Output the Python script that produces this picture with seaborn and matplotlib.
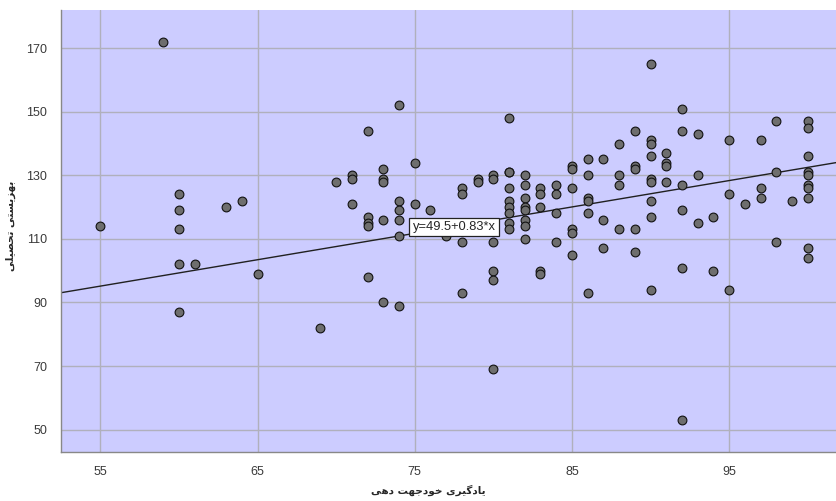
import matplotlib
matplotlib.use("Agg")
import matplotlib.pyplot as plt
import seaborn as sns
import numpy as np
import pandas as pd

# ---------------- data ----------------
x_label_text = "یادگیری خودجهت دهی"
y_label_text = "بهزیستی تحصیلی"
fit_label = "y=49.5+0.83*x"
fit_intercept = 49.5
fit_slope = 0.83

x_ticks = [55, 65, 75, 85, 95]
y_ticks = [50, 70, 90, 110, 130, 150, 170]

# self-directed learning scores (x) and the matching outcome scores (y)
groups = {
    55: [114],
    59: [172],
    60: [124, 119, 113, 102, 87],
    61: [102],
    63: [120],
    64: [122],
    65: [99],
    69: [82],
    70: [128],
    71: [130, 129, 121],
    72: [144, 117, 115, 114, 98],
    73: [132, 129, 128, 116, 90],
    74: [152, 122, 119, 116, 111, 89],
    75: [134, 121],
    76: [119],
    77: [111],
    78: [126, 124, 109, 93],
    79: [129, 128],
    80: [130, 129, 109, 100, 97, 69],
    81: [148, 131, 131, 126, 122, 120, 118, 115, 113],
    82: [130, 127, 123, 120, 119, 116, 114, 110],
    83: [126, 124, 120, 100, 99],
    84: [127, 124, 118, 109],
    85: [133, 132, 126, 113, 112, 105],
    86: [135, 130, 123, 122, 118, 93],
    87: [135, 116, 107],
    88: [140, 130, 127, 113],
    89: [144, 133, 132, 113, 106],
    90: [165, 141, 140, 136, 129, 128, 122, 117, 94],
    91: [137, 134, 133, 128],
    92: [151, 144, 127, 119, 101, 53],
    93: [143, 130, 115],
    94: [117, 100],
    95: [141, 124, 94],
    96: [121],
    97: [141, 126, 123],
    98: [147, 131, 109],
    99: [122],
    100: [147, 145, 136, 131, 130, 127, 126, 123, 107, 104],
}
x_values = [k for k, v in groups.items() for _ in v]
y_values = [val for v in groups.values() for val in v]

# ---------------- minimal Persian shaping (logical -> visual) ----------------
FORMS = {  # isolated, final, initial, medial
    "\u0627": ("\uFE8D", "\uFE8E", None, None),
    "\u0628": ("\uFE8F", "\uFE90", "\uFE91", "\uFE92"),
    "\u062A": ("\uFE95", "\uFE96", "\uFE97", "\uFE98"),
    "\u062C": ("\uFE9D", "\uFE9E", "\uFE9F", "\uFEA0"),
    "\u062D": ("\uFEA1", "\uFEA2", "\uFEA3", "\uFEA4"),
    "\u062E": ("\uFEA5", "\uFEA6", "\uFEA7", "\uFEA8"),
    "\u062F": ("\uFEA9", "\uFEAA", None, None),
    "\u0631": ("\uFEAD", "\uFEAE", None, None),
    "\u0632": ("\uFEAF", "\uFEB0", None, None),
    "\u0633": ("\uFEB1", "\uFEB2", "\uFEB3", "\uFEB4"),
    "\u0635": ("\uFEB9", "\uFEBA", "\uFEBB", "\uFEBC"),
    "\u0644": ("\uFEDD", "\uFEDE", "\uFEDF", "\uFEE0"),
    "\u0647": ("\uFEE9", "\uFEEA", "\uFEEB", "\uFEEC"),
    "\u0648": ("\uFEED", "\uFEEE", None, None),
    "\u06CC": ("\uFBFC", "\uFBFD", "\uFBFE", "\uFBFF"),
    "\u06AF": ("\uFB92", "\uFB93", "\uFB94", "\uFB95"),
}


def shape(text):
    out = []
    n = len(text)
    for i, ch in enumerate(text):
        if ch not in FORMS:
            out.append(ch)
            continue
        f = FORMS[ch]
        prev = text[i - 1] if i > 0 else None
        nxt = text[i + 1] if i < n - 1 else None
        jp = prev in FORMS and FORMS[prev][2] is not None
        jn = f[2] is not None and nxt in FORMS
        if jp and jn:
            out.append(f[3])
        elif jp:
            out.append(f[1])
        elif jn:
            out.append(f[2])
        else:
            out.append(f[0])
    return "".join(reversed(out))


# ---------------- plot ----------------
sns.set_style("white")
plt.rcParams["font.family"] = ["Liberation Sans", "DejaVu Sans"]

df = pd.DataFrame({"x": x_values, "y": y_values})

fig = plt.figure(figsize=(8.36, 5.01), dpi=100)
ax = fig.add_axes([0.073, 0.098, 0.927, 0.882])
ax.set_facecolor("#CCCCFF")

ax.set_xlim(52.5, 101.8)
ax.set_ylim(43.0, 182.0)
ax.set_xticks(x_ticks)
ax.set_yticks(y_ticks)
ax.grid(True, color="#B0B0BC", linewidth=1.0)
ax.set_axisbelow(True)

xl = np.array(ax.get_xlim())
ax.plot(xl, fit_intercept + fit_slope * xl, color="#202020", linewidth=1.0, zorder=2)

sns.scatterplot(data=df, x="x", y="y", ax=ax, s=40, color="#6E6E6E",
                edgecolor="#111111", linewidth=0.8, zorder=3, legend=False)

ax.text(77.5, 113.7, fit_label, fontsize=9.3, ha="center", va="center",
        family="Liberation Sans", zorder=4,
        bbox=dict(boxstyle="square,pad=0.25", facecolor="white",
                  edgecolor="#222222", linewidth=0.9))

ax.tick_params(axis="both", length=0, labelsize=9, labelcolor="#3A3A3A", pad=10)
for side in ["top", "right"]:
    ax.spines[side].set_visible(False)
for side in ["left", "bottom"]:
    ax.spines[side].set_color("#888888")
    ax.spines[side].set_linewidth(1.0)

ax.set_xlabel("")
ax.set_ylabel("")
fig.text(428 / 836, 1 - 490 / 501, shape(x_label_text), fontsize=7.5, fontweight="bold",
         family="DejaVu Sans", ha="center", va="center")
fig.text(11 / 836, 1 - 226 / 501, shape(y_label_text), fontsize=7.5, fontweight="bold",
         family="DejaVu Sans", ha="center", va="center", rotation=90)

fig.savefig("out.png", dpi=100)
